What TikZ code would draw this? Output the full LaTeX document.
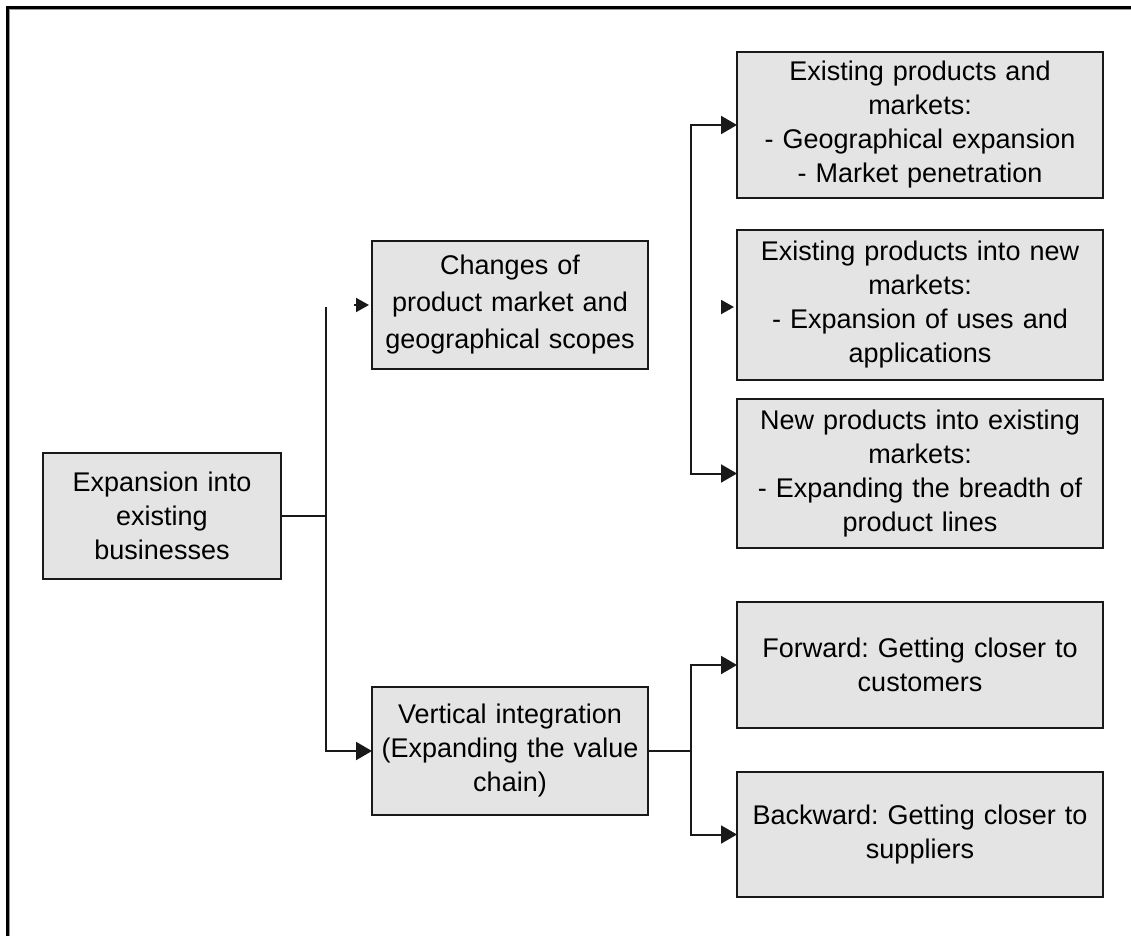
\documentclass[tikz,border=0pt]{standalone}
\usepackage{fontspec}
\setmainfont{Liberation Sans}
\usetikzlibrary{arrows.meta}
\definecolor{boxfill}{RGB}{228,228,228}
\definecolor{linecol}{RGB}{25,25,25}
\tikzset{
  box/.style={draw=linecol, line width=2pt, fill=boxfill, inner sep=0pt, outer sep=0pt,
    align=center, font=\fontsize{27}{34}\selectfont, text=black},
  conn/.style={draw=linecol, line width=2pt, line cap=butt},
  bigtip/.style={-{Triangle[length=16pt,width=18pt]}},
  twotip/.style={{Triangle[length=16pt,width=18pt]}-{Triangle[length=16pt,width=18pt]}},
  smalltip/.style={-{Triangle[length=13pt,width=14pt]}, shorten >=3pt},
}
\frenchspacing
\begin{document}
\frenchspacing
\begin{tikzpicture}[x=1pt,y=-1pt]
\useasboundingbox (0,0) rectangle (1131,936);
% frame (top and left)
\draw[black!40, line width=1.2pt] (9.8,936) -- (9.8,9.8) -- (1131,9.8);
\draw[black, line width=2.5pt] (7.5,936) -- (7.5,7.5) -- (1131,7.5);

\node[box, minimum width=238pt, minimum height=126pt, text width=230pt] (main) at (162,516)
  {Expansion into\\existing\\businesses};
\node[box, minimum width=276pt, minimum height=128pt, text width=270pt] (changes) at (510,305)
  {Changes of\\[3pt]product market and\\[3pt]geographical scopes};
\node[box, minimum width=276pt, minimum height=128pt, text width=270pt] (vint) at (510,751)
  {Vertical integration\\(Expanding the value\\chain)};
\node[box, minimum width=366pt, minimum height=146pt, text width=360pt] (b1) at (920,125)
  {Existing products and\\markets:\\- Geographical expansion\\- Market penetration};
\node[box, minimum width=366pt, minimum height=150pt, text width=360pt] (b2) at (920,305)
  {Existing products into new\\markets:\\- Expansion of uses and\\applications};
\node[box, minimum width=366pt, minimum height=149pt, text width=360pt] (b3) at (920,473.5)
  {New products into existing\\markets:\\- Expanding the breadth of\\product lines};
\node[box, minimum width=366pt, minimum height=126pt, text width=360pt] (fwd) at (920,665)
  {Forward: Getting closer to\\customers};
\node[box, minimum width=366pt, minimum height=125pt, text width=360pt] (bwd) at (920,834.5)
  {Backward: Getting closer to\\suppliers};

% connectors
\coordinate (ltop) at (326,307);
\coordinate (lx) at (326,518);
\coordinate (rx) at (691,300);
\coordinate (vx) at (691,751);
\coordinate (cA) at (354,305);
\coordinate (cB) at (721,307);

\draw[conn] (main.east) -- (main.east -| lx);
\draw[conn, bigtip] (ltop) |- (vint.west);
\draw[conn, smalltip] (cA) -- (changes.west);

\draw[conn, twotip] (b1.west) -| (rx) |- (b3.west);
\draw[conn, smalltip] (cB) -- (cB -| b2.west);

\draw[conn] (vint.east) -- (vx);
\draw[conn, twotip] (fwd.west) -| (vx) |- (bwd.west);
\end{tikzpicture}
\end{document}
